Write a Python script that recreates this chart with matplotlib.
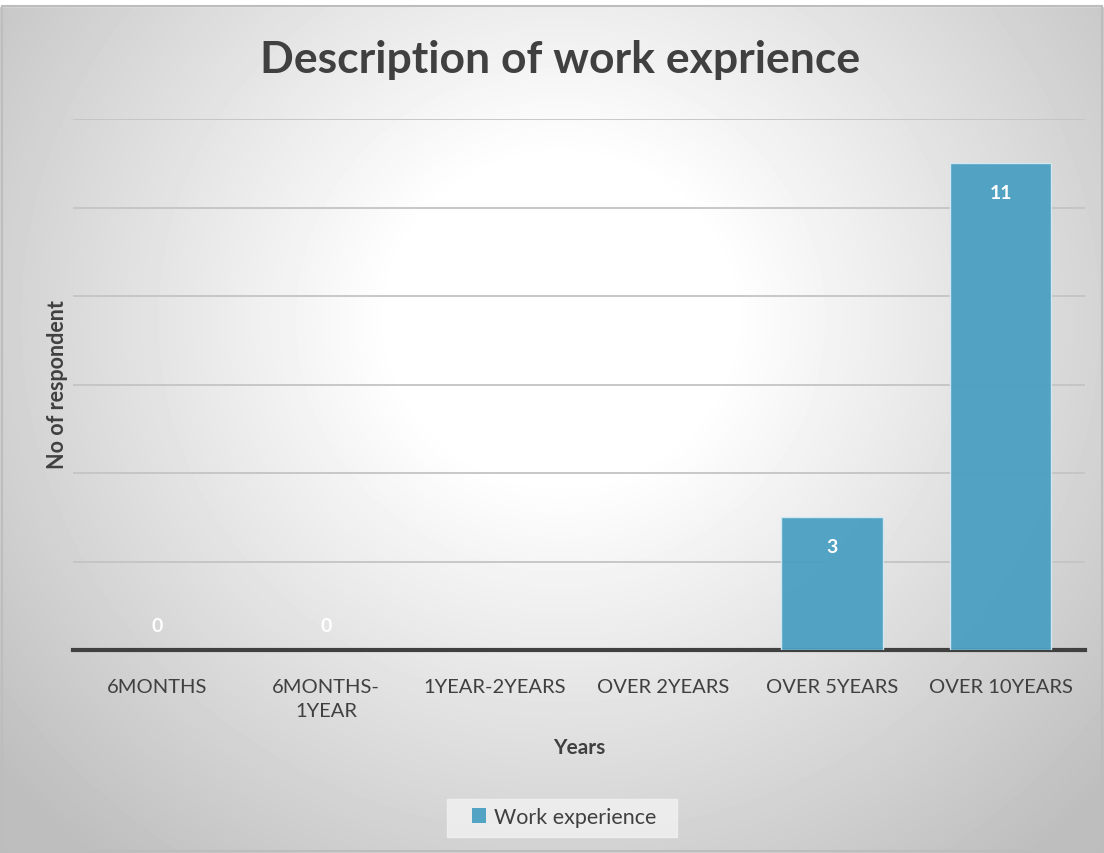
import numpy as np
import matplotlib.pyplot as plt
from matplotlib.patches import Rectangle

categories = ['6MONTHS', '6MONTHS-\n1YEAR', '1YEAR-2YEARS', 'OVER 2YEARS', 'OVER 5YEARS', 'OVER 10YEARS']
values = [0, 0, np.nan, np.nan, 3, 11]
series_name = 'Work experience'

plt.rcParams['font.family'] = ['Lato', 'DejaVu Sans']

W, H = 1104, 854
fig = plt.figure(figsize=(W / 100, H / 100), dpi=100)

# radial gradient background
bg = fig.add_axes([0, 0, 1, 1], zorder=-5)
yy, xx = np.mgrid[0:H, 0:W]
d = np.hypot(xx - 560, (yy - 320) * 1.05)
shade = 255 - np.clip(d - 170, 0, None) * 58 / 500
shade = np.clip(shade, 190, 255) / 255
bg.imshow(shade, cmap='gray', vmin=0, vmax=1, extent=[0, W, H, 0], aspect='auto', interpolation='bilinear')
bg.set_xlim(0, W)
bg.set_ylim(H, 0)
bg.axis('off')
# white strip at top and thin frame
bg.add_patch(Rectangle((0, 0), W, 7, color='white', zorder=3))
bg.add_patch(Rectangle((2, 7), W - 4, H - 9, fill=False, edgecolor='#bdbdbd', lw=1.5, zorder=4))
# legend box
bg.add_patch(Rectangle((447, 800), 230, 38, color='#f2f2f2', alpha=0.8, zorder=2))

ax = fig.add_axes([73 / W, 1 - 651 / H, (1085 - 73) / W, (651 - 120) / H])
ax.patch.set_alpha(0)
x = np.arange(len(categories))
heights = np.nan_to_num(values)
bars = ax.bar(x, heights, width=0.6, color='#4a9fc2', alpha=0.95,
              edgecolor='#d6eaf2', linewidth=[1 if h > 0 else 0 for h in heights],
              zorder=3, label=series_name)
ax.set_xlim(-0.5, len(categories) - 0.5)
ax.set_ylim(0, 12)
ax.set_yticks(np.arange(2, 13, 2))
ax.yaxis.grid(True, color='#c4c4c4', linewidth=1.3, zorder=0)
ax.set_axisbelow(True)
ax.tick_params(axis='y', length=0, labelleft=False)
ax.tick_params(axis='x', length=0, pad=20, labelsize=14.5, labelcolor='#404040')
ax.set_xticks(x)
ax.set_xticklabels(categories, linespacing=1.55, va='top')
for s in ['top', 'right', 'left']:
    ax.spines[s].set_visible(False)
ax.spines['bottom'].set_color('#404040')
ax.spines['bottom'].set_linewidth(3)

for xi, v in zip(x, values):
    if np.isnan(v):
        continue
    if v == 0:
        ax.text(xi, 0.55, '0', ha='center', va='center', color='white', fontsize=14, fontweight='bold', zorder=5)
    else:
        ax.text(xi, v - 0.65, f'{int(v)}', ha='center', va='center', color='white', fontsize=14, fontweight='bold', zorder=5)

fig.text(560 / W, 1 - 60 / H, 'Description of work exprience', ha='center', va='center',
         fontsize=32, fontweight='bold', color='#404040')
fig.text(57 / W, 1 - 385 / H, 'No of respondent', rotation=90, ha='center', va='center',
         fontsize=15.5, fontweight='bold', color='#404040')
fig.text(579 / W, 1 - 748 / H, 'Years', ha='center', va='center',
         fontsize=15, fontweight='bold', color='#404040')

leg = fig.legend(handles=[bars], labels=[series_name], loc='center', bbox_to_anchor=(564 / W, 1 - 818 / H),
                 frameon=False, fontsize=15.5, handlelength=0.65, handleheight=0.65, handletextpad=0.4,
                 labelcolor='#404040')

fig.savefig('out.png', dpi=100)
